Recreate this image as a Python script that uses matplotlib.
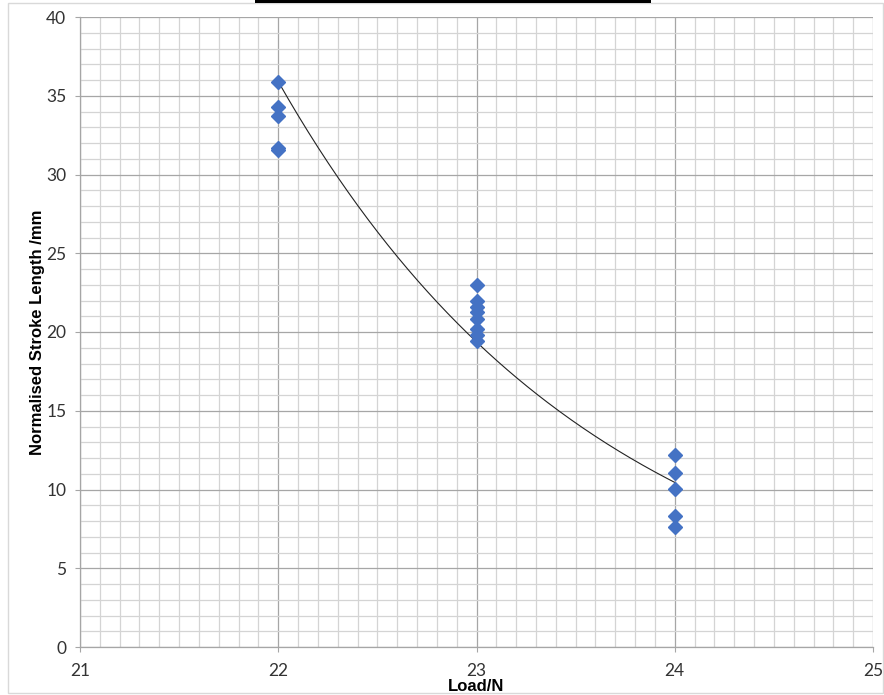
import numpy as np
import matplotlib
matplotlib.use("Agg")
import matplotlib.pyplot as plt
from matplotlib.patches import Rectangle
from matplotlib.ticker import MultipleLocator

# Data
load_22 = [22, 22, 22, 22, 22]
stroke_22 = [35.85, 34.3, 33.7, 31.7, 31.55]
load_23 = [23, 23, 23, 23, 23, 23, 23, 23]
stroke_23 = [23.0, 22.0, 21.6, 21.25, 20.85, 20.2, 19.8, 19.45]
load_24 = [24, 24, 24, 24, 24]
stroke_24 = [12.2, 11.05, 10.05, 8.3, 7.6]

# Exponential trendline endpoints
trend_x_start, trend_x_end = 22.0, 24.0
trend_y_start, trend_y_end = 35.9, 10.45

x_ticks = [21, 22, 23, 24, 25]
y_ticks = [0, 5, 10, 15, 20, 25, 30, 35, 40]

loads = load_22 + load_23 + load_24
strokes = stroke_22 + stroke_23 + stroke_24

W, H = 884, 695
fig = plt.figure(figsize=(W / 100, H / 100), dpi=100)
ax = fig.add_axes([80 / W, (H - 647) / H, (873 - 80) / W, (647 - 17) / H])

# chart area border
fig.add_artist(Rectangle((8 / W, 2 / H), (W - 9) / W, (H - 5) / H,
                         transform=fig.transFigure, fill=False,
                         edgecolor="#d9d9d9", linewidth=1))
# cut-off underlined title remnant
fig.add_artist(Rectangle((255 / W, (H - 3) / H), (651 - 255) / W, 3 / H,
                         transform=fig.transFigure, facecolor="black",
                         edgecolor="none"))

ax.set_xlim(21, 25)
ax.set_ylim(0, 40)
ax.xaxis.set_major_locator(MultipleLocator(1))
ax.xaxis.set_minor_locator(MultipleLocator(0.1))
ax.yaxis.set_major_locator(MultipleLocator(5))
ax.yaxis.set_minor_locator(MultipleLocator(1))
ax.set_xticks(x_ticks)
ax.set_yticks(y_ticks)

ax.grid(which="minor", color="#d4d4d4", linewidth=0.9)
ax.grid(which="major", color="#a6a6a6", linewidth=0.9)
ax.set_axisbelow(True)

for s in ["top", "right"]:
    ax.spines[s].set_visible(False)
for s in ["left", "bottom"]:
    ax.spines[s].set_color("#a6a6a6")
    ax.spines[s].set_linewidth(0.9)

ax.tick_params(which="major", direction="out", length=3.8, color="#a6a6a6",
               labelsize=12.5, labelcolor="#333333")
ax.tick_params(which="minor", length=0)
ax.tick_params(axis="x", pad=8)
ax.tick_params(axis="y", pad=6)
for lab in ax.get_xticklabels() + ax.get_yticklabels():
    lab.set_fontfamily("Lato")

# trendline (exponential)
k = np.log(trend_y_end / trend_y_start) / (trend_x_end - trend_x_start)
tx = np.linspace(trend_x_start, trend_x_end, 200)
ty = trend_y_start * np.exp(k * (tx - trend_x_start))
ax.plot(tx, ty, color="#222222", linewidth=0.8, zorder=3)

ax.plot(loads, strokes, linestyle="none", marker="D", markersize=6.8,
        color="#4472C4", markeredgecolor="#4472C4", zorder=4)

ax.set_xlabel("Load/N", fontfamily="Liberation Sans", fontweight="bold",
              fontsize=12, labelpad=0)
ax.set_ylabel("Normalised Stroke Length /mm", fontfamily="Liberation Sans",
              fontweight="bold", fontsize=12, labelpad=1)

fig.savefig("out.png", dpi=100)
